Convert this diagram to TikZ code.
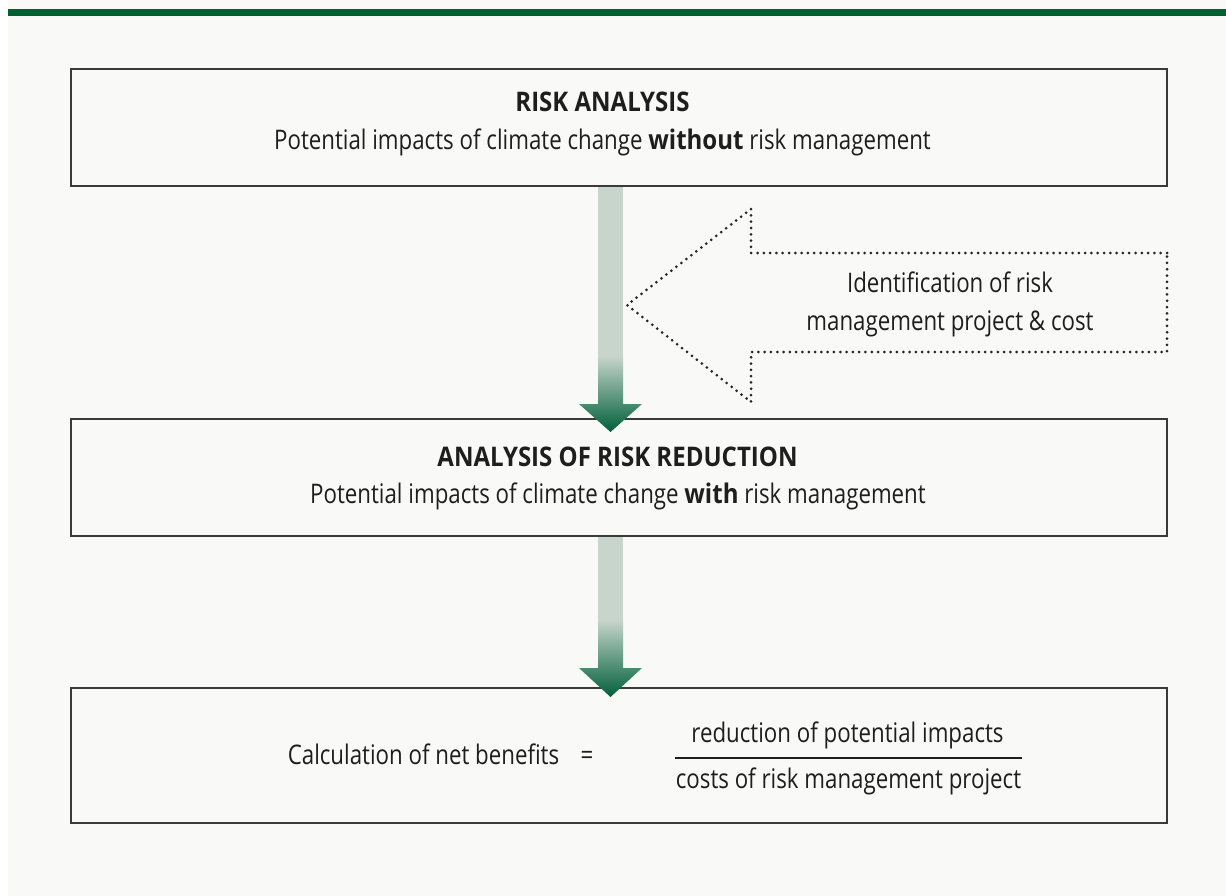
\documentclass[tikz,border=0pt]{standalone}
\usepackage{fontspec}
\setmainfont{Open Sans}[FakeStretch=0.825, BoldFeatures={FakeStretch=0.89}]
\usetikzlibrary{calc}
\definecolor{bgc}{HTML}{F9F9F8}
\definecolor{barg}{HTML}{005F33}
\definecolor{edgec}{HTML}{3A3A3A}
\definecolor{shaftc}{HTML}{C8D5CD}
\definecolor{darkg}{HTML}{00603A}
\definecolor{txtc}{HTML}{1E1E1E}
\definecolor{dotc}{HTML}{262626}
\tikzset{
  boxnode/.style={draw=edgec, line width=2pt, fill=bgc, minimum width=1096pt, inner sep=0pt},
  txt/.style={text=txtc, anchor=base, inner sep=0pt, font=\fontsize{27}{32}\selectfont},
  dotarrow/.style={draw=dotc, line width=3pt, line cap=round, dash pattern=on 0pt off 6.3pt},
}
\newcommand\greenarrow[5]{%
  \fill[shaftc] (#1-12.5,#2) rectangle (#1+12.5,#3);
  \shade[top color=shaftc, bottom color=darkg] (#1-12.5,#3) -- (#1+12.5,#3) -- (#1+12.5,#4) -- (#1+31.5,#4) -- (#1,#5) -- (#1-31.5,#4) -- (#1-12.5,#4) -- cycle;
}
\begin{document}
\begin{tikzpicture}[x=1pt,y=-1pt]
\useasboundingbox (0,0) rectangle (1226,896);
\fill[white] (0,0) rectangle (1226,896);
\fill[bgc] (8,0) rectangle (1226,896);
\fill[barg] (8,9) rectangle (1226,16);
% boxes
\node[boxnode, minimum height=117pt] (b1) at (619,127.5) {};
\node[boxnode, minimum height=117pt] (b2) at (619,477.5) {};
\node[boxnode, minimum height=135pt] (b3) at (619,755.5) {};
% texts
\node[txt] (t1a) at (602.5,112) {\textbf{RISK ANALYSIS}};
\node[txt] (t1b) at (602.5,150) {Potential impacts of climate change \textbf{without} risk management};
\node[txt] (t2a) at (617.5,466) {\textbf{ANALYSIS OF RISK REDUCTION}};
\node[txt] (t2b) at (618,503) {Potential impacts of climate change \textbf{with} risk management};
\node[txt] (t3a) at (423.5,764) {Calculation of net benefits};
\node[txt] (t3eq) at (587,764) {=};
\node[txt] (t3n) at (847.5,742) {reduction of potential impacts};
\node[txt] (t3d) at (848.5,788) {costs of risk management project};
\draw[txtc, line width=1.2pt] (675,758) -- (1022,758);
% dotted input arrow
\draw[dotarrow] (1167,253) -- (751,253) -- (751,209) -- (627,305) -- (751,402) -- (751,352) -- (1167,352) -- cycle;
\node[txt] (tda) at (950,292) {Identification of risk};
\node[txt] (tdb) at (950,330) {management project \& cost};
% green arrows
\greenarrow{610.5}{187}{356}{404}{432}
\greenarrow{610.5}{537}{620}{668}{697}
\end{tikzpicture}
\end{document}
